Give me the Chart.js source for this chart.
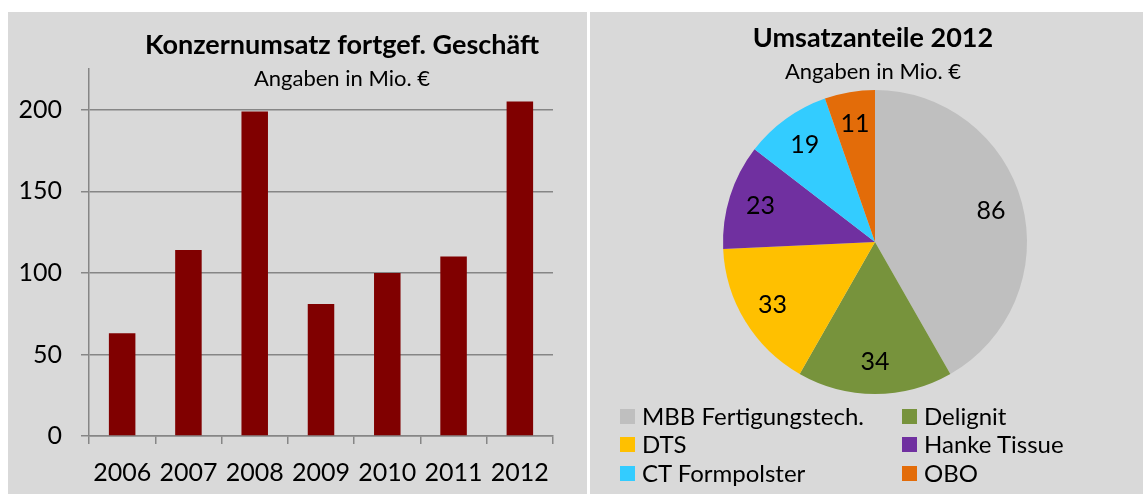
<!DOCTYPE html>
<html><head><meta charset="utf-8">
<script src="https://cdn.jsdelivr.net/npm/chart.js@4"></script>
<style>
body{margin:0;background:#fff;width:1143px;height:494px;position:relative;overflow:hidden;font-family:Lato,sans-serif}
#p1{position:absolute;left:8px;top:12px;width:579px;height:482px;background:#d9d9d9}
#p2{position:absolute;left:590px;top:12px;width:553px;height:482px;background:#d9d9d9}
.leg{position:absolute;height:20px;line-height:20px;font-size:24px;color:#000;white-space:nowrap}
.leg i{position:absolute;left:0;top:2px;width:15px;height:15px}
.leg span{position:absolute;left:22px;top:-1px}
</style></head>
<body>
<div id="p1"><canvas id="c1"></canvas></div>
<div id="p2"><canvas id="c2"></canvas></div>
<script>
// ---- data ----
const years = ['2006','2007','2008','2009','2010','2011','2012'];
const revenue = [63, 114, 199, 81, 100, 110, 205];
const yTicks = [0, 50, 100, 150, 200];
const segments = ['MBB Fertigungstech.','Delignit','DTS','Hanke Tissue','CT Formpolster','OBO'];
const shares = [86, 34, 33, 23, 19, 11];
const segColors = ['#bfbfbf','#77933c','#ffc000','#7030a0','#33ccff','#e36c09'];
const legendOrder = [[0,1],[2,3],[4,5]];

const FONT = 'Lato';

const textPlugin = {
  id: 'ovText',
  afterDraw(chart, args, opts) {
    const ctx = chart.ctx;
    ctx.save();
    ctx.fillStyle = '#000';
    ctx.textAlign = 'center';
    ctx.textBaseline = 'alphabetic';
    (opts.lines || []).forEach(l => { ctx.font = l.font; ctx.fillText(l.text, l.x, l.y); });
    ctx.restore();
  }
};

const pieLabels = {
  id: 'pieLabels',
  afterDatasetsDraw(chart, args, opts) {
    const ctx = chart.ctx;
    const meta = chart.getDatasetMeta(0);
    const ds = chart.data.datasets[0];
    ctx.save();
    ctx.fillStyle = '#000';
    ctx.font = opts.font;
    ctx.textAlign = 'center';
    ctx.textBaseline = 'middle';
    meta.data.forEach((arc, i) => {
      const p = arc.getProps(['x','y','startAngle','endAngle','outerRadius'], true);
      const mid = (p.startAngle + p.endAngle) / 2;
      const r = p.outerRadius * opts.factor;
      ctx.fillText(String(ds.data[i]), p.x + Math.cos(mid) * r, p.y + Math.sin(mid) * r);
    });
    ctx.restore();
  }
};

const gridCol = '#868686';

new Chart(document.getElementById('c1'), {
  type: 'bar',
  data: { labels: years, datasets: [{ data: revenue, backgroundColor: '#800000', borderWidth: 0,
    barPercentage: 0.4, categoryPercentage: 1 }] },
  plugins: [textPlugin],
  options: {
    responsive: true, maintainAspectRatio: false, animation: false,
    events: [],
    layout: { padding: { left: 0, right: 34, top: 57, bottom: 0 } },
    plugins: {
      legend: { display: false }, tooltip: { enabled: false },
      ovText: { lines: [
        { text: 'Konzernumsatz fortgef. Geschäft', x: 334, y: 42, font: 'bold 27px ' + FONT },
        { text: 'Angaben in Mio. €', x: 334, y: 74, font: '22px ' + FONT }
      ] }
    },
    scales: {
      x: {
        offset: true,
        grid: { offset: true, drawOnChartArea: false, drawTicks: true, tickLength: 8, color: gridCol, lineWidth: 1.5 },
        border: { color: gridCol, width: 1.5 },
        ticks: { color: '#000', font: { family: FONT, size: 25 }, padding: 14, maxRotation: 0 },
        afterFit: s => { s.height = 58; }
      },
      y: {
        min: 0, max: 225,
        afterBuildTicks: s => { s.ticks = yTicks.map(v => ({ value: v })); },
        afterFit: s => { s.width = 81; },
        grid: { color: gridCol, tickLength: 8, lineWidth: 1.5 },
        border: { color: gridCol, width: 1.5 },
        ticks: { color: '#000', font: { family: FONT, size: 25 }, padding: 19 }
      }
    }
  }
});

new Chart(document.getElementById('c2'), {
  type: 'pie',
  data: { labels: segments, datasets: [{ data: shares, backgroundColor: segColors, borderWidth: 0, hoverOffset: 0, offset: 0 }] },
  plugins: [textPlugin, pieLabels],
  options: {
    responsive: true, maintainAspectRatio: false, animation: false,
    events: [],
    layout: { padding: { left: 133, right: 116, top: 78, bottom: 100 } },
    plugins: {
      legend: { display: false }, tooltip: { enabled: false },
      pieLabels: { font: '25px ' + FONT, factor: 0.79 },
      ovText: { lines: [
        { text: 'Umsatzanteile 2012', x: 283, y: 35, font: 'bold 27px ' + FONT },
        { text: 'Angaben in Mio. €', x: 283, y: 67, font: '22px ' + FONT }
      ] }
    }
  }
});

// legend (HTML)
const p2 = document.getElementById('p2');
const colX = [30, 312];
const rowY = [395, 423, 452];
legendOrder.forEach((row, r) => row.forEach((idx, c) => {
  const d = document.createElement('div');
  d.className = 'leg';
  d.style.left = colX[c] + 'px';
  d.style.top = rowY[r] + 'px';
  const b = document.createElement('i'); b.style.background = segColors[idx];
  const t = document.createElement('span'); t.textContent = segments[idx];
  d.appendChild(b); d.appendChild(t); p2.appendChild(d);
}));
</script>
</body></html>
